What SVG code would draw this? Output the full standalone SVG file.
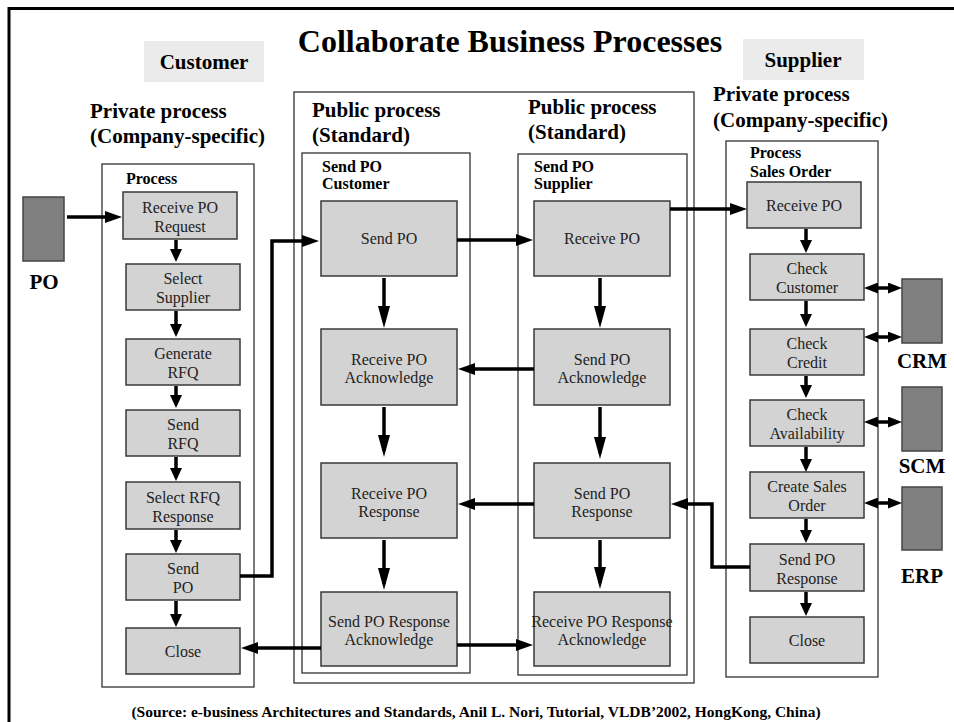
<svg xmlns="http://www.w3.org/2000/svg" width="954" height="722" viewBox="0 0 954 722">
  <style>
    text { font-family: "Liberation Serif", "Times New Roman", serif; fill: #000; }
    .title { font-size: 32px; font-weight: bold; }
    .head { font-size: 21px; font-weight: bold; }
    .lab { font-size: 16px; font-weight: bold; }
    .sys { font-size: 21px; font-weight: bold; }
    .node rect { fill: #d3d3d3; stroke: #3a3a3a; stroke-width: 1.5; }
    .node text { font-size: 16px; fill: #222; text-anchor: middle; }
    .box { fill: none; stroke: #333; stroke-width: 1.3; }
    .doc { fill: #808080; stroke: #444; stroke-width: 1.5; }
    .tag { fill: #ebebeb; }
    .conn path { fill: none; stroke: #000; stroke-width: 3.5; }
    .foot { font-size: 15.5px; font-weight: bold; text-anchor: middle; }
  </style>
  <defs>
    <marker id="arr" markerUnits="userSpaceOnUse" markerWidth="17" markerHeight="12" refX="11" refY="6" orient="auto">
      <path d="M0,0 L17,6 L0,12 z" fill="#000"/>
    </marker>
    <marker id="arrLong" markerUnits="userSpaceOnUse" markerWidth="22" markerHeight="12" refX="16" refY="6" orient="auto">
      <path d="M0,0 L22,6 L0,12 z" fill="#000"/>
    </marker>
    <marker id="arrSmall" markerUnits="userSpaceOnUse" markerWidth="13" markerHeight="12" refX="7" refY="6" orient="auto">
      <path d="M0,0 L13,6 L0,12 z" fill="#000"/>
    </marker>
    <marker id="dbl" markerUnits="userSpaceOnUse" markerWidth="14" markerHeight="11" refX="8" refY="5.5" orient="auto-start-reverse">
      <path d="M0,0 L14,5.5 L0,11 z" fill="#000"/>
    </marker>
  </defs>

  <rect width="954" height="722" fill="#fff"/>

  <!-- frame edges -->
  <path d="M9,722 V8.5 H954" fill="none" stroke="#000" stroke-width="3"/>

  <!-- headings -->
  <text class="title" x="510" y="52" text-anchor="middle">Collaborate Business Processes</text>
  <g id="customer-tag">
    <rect class="tag" x="144" y="41" width="120" height="41"/>
    <text class="head" x="204" y="69" text-anchor="middle">Customer</text>
  </g>
  <g id="supplier-tag">
    <rect class="tag" x="743" y="39" width="121" height="41"/>
    <text class="head" x="803" y="67" text-anchor="middle">Supplier</text>
  </g>
  <text class="head" x="90" y="118">Private process</text>
  <text class="head" x="90" y="143">(Company-specific)</text>
  <text class="head" x="312" y="117">Public process</text>
  <text class="head" x="312" y="142">(Standard)</text>
  <text class="head" x="528" y="114">Public process</text>
  <text class="head" x="528" y="139">(Standard)</text>
  <text class="head" x="713" y="101">Private process</text>
  <text class="head" x="713" y="127">(Company-specific)</text>

  <!-- containers -->
  <g id="public-process">
    <rect class="box" x="294" y="92" width="400" height="591"/>
  </g>
  <g id="customer-process">
    <rect class="box" x="102" y="164" width="152" height="523"/>
    <text class="lab" x="126" y="184">Process</text>
  </g>
  <g id="send-po-customer">
    <rect class="box" x="302" y="153" width="168" height="520"/>
    <text class="lab" x="322" y="172">Send PO</text>
    <text class="lab" x="322" y="189">Customer</text>
  </g>
  <g id="send-po-supplier">
    <rect class="box" x="518" y="154" width="169" height="521"/>
    <text class="lab" x="534" y="172">Send PO</text>
    <text class="lab" x="534" y="189">Supplier</text>
  </g>
  <g id="sales-order-process">
    <rect class="box" x="726" y="141" width="152" height="536"/>
    <text class="lab" x="750" y="158">Process</text>
    <text class="lab" x="750" y="177">Sales Order</text>
  </g>

  <!-- external documents and systems -->
  <g id="po-doc">
    <rect class="doc" x="23" y="197" width="41" height="64"/>
    <text class="sys" x="44" y="289" text-anchor="middle">PO</text>
  </g>
  <g id="crm">
    <rect class="doc" x="902" y="279" width="40" height="64"/>
    <text class="sys" x="922" y="368" text-anchor="middle">CRM</text>
  </g>
  <g id="scm">
    <rect class="doc" x="902" y="387" width="40" height="64"/>
    <text class="sys" x="922" y="473" text-anchor="middle">SCM</text>
  </g>
  <g id="erp">
    <rect class="doc" x="902" y="487" width="40" height="63"/>
    <text class="sys" x="922" y="583" text-anchor="middle">ERP</text>
  </g>

  <!-- customer private process -->
  <g id="c-receive-po-request" class="node">
    <rect x="123" y="192" width="114" height="47"/>
    <text x="180" y="212.5">Receive PO</text><text x="180" y="231.5">Request</text>
  </g>
  <g id="c-select-supplier" class="node">
    <rect x="126" y="264" width="114" height="46"/>
    <text x="183" y="284">Select</text><text x="183" y="303">Supplier</text>
  </g>
  <g id="c-generate-rfq" class="node">
    <rect x="126" y="339" width="114" height="46"/>
    <text x="183" y="359">Generate</text><text x="183" y="378">RFQ</text>
  </g>
  <g id="c-send-rfq" class="node">
    <rect x="126" y="410" width="114" height="46"/>
    <text x="183" y="430">Send</text><text x="183" y="449">RFQ</text>
  </g>
  <g id="c-select-rfq-response" class="node">
    <rect x="126" y="482" width="114" height="47"/>
    <text x="183" y="502.5">Select RFQ</text><text x="183" y="521.5">Response</text>
  </g>
  <g id="c-send-po" class="node">
    <rect x="126" y="554" width="114" height="46"/>
    <text x="183" y="574">Send</text><text x="183" y="593">PO</text>
  </g>
  <g id="c-close" class="node">
    <rect x="126" y="628" width="114" height="46"/>
    <text x="183" y="657">Close</text>
  </g>

  <!-- public process, customer side -->
  <g id="p-send-po" class="node">
    <rect x="321" y="201" width="136" height="75"/>
    <text x="389" y="244">Send PO</text>
  </g>
  <g id="p-receive-po-ack" class="node">
    <rect x="321" y="329" width="136" height="76"/>
    <text x="389" y="365">Receive PO</text><text x="389" y="383">Acknowledge</text>
  </g>
  <g id="p-receive-po-response" class="node">
    <rect x="321" y="463" width="136" height="75"/>
    <text x="389" y="499">Receive PO</text><text x="389" y="517">Response</text>
  </g>
  <g id="p-send-po-response-ack" class="node">
    <rect x="321" y="592" width="136" height="74"/>
    <text x="389" y="627">Send PO Response</text><text x="389" y="645">Acknowledge</text>
  </g>

  <!-- public process, supplier side -->
  <g id="s-receive-po" class="node">
    <rect x="534" y="201" width="136" height="75"/>
    <text x="602" y="244">Receive PO</text>
  </g>
  <g id="s-send-po-ack" class="node">
    <rect x="534" y="329" width="136" height="76"/>
    <text x="602" y="365">Send PO</text><text x="602" y="383">Acknowledge</text>
  </g>
  <g id="s-send-po-response" class="node">
    <rect x="534" y="463" width="136" height="75"/>
    <text x="602" y="499">Send PO</text><text x="602" y="517">Response</text>
  </g>
  <g id="s-receive-po-response-ack" class="node">
    <rect x="534" y="592" width="136" height="74"/>
    <text x="602" y="627">Receive PO Response</text><text x="602" y="645">Acknowledge</text>
  </g>

  <!-- supplier private process -->
  <g id="o-receive-po" class="node">
    <rect x="747" y="182" width="114" height="46"/>
    <text x="804" y="211">Receive PO</text>
  </g>
  <g id="o-check-customer" class="node">
    <rect x="750" y="254" width="114" height="46"/>
    <text x="807" y="274">Check</text><text x="807" y="293">Customer</text>
  </g>
  <g id="o-check-credit" class="node">
    <rect x="750" y="329" width="114" height="46"/>
    <text x="807" y="349">Check</text><text x="807" y="368">Credit</text>
  </g>
  <g id="o-check-availability" class="node">
    <rect x="750" y="400" width="114" height="46"/>
    <text x="807" y="420">Check</text><text x="807" y="439">Availability</text>
  </g>
  <g id="o-create-sales-order" class="node">
    <rect x="750" y="472" width="114" height="46"/>
    <text x="807" y="492">Create Sales</text><text x="807" y="511">Order</text>
  </g>
  <g id="o-send-po-response" class="node">
    <rect x="750" y="544" width="114" height="47"/>
    <text x="807" y="564.5">Send PO</text><text x="807" y="583.5">Response</text>
  </g>
  <g id="o-close" class="node">
    <rect x="750" y="617" width="114" height="46"/>
    <text x="807" y="646">Close</text>
  </g>

  <!-- connectors -->
  <g id="connectors" class="conn">
    <!-- into the customer process -->
    <path d="M67,217 H116" marker-end="url(#arr)"/>
    <!-- customer private flow -->
    <path d="M176,240 V256" marker-end="url(#arrSmall)"/>
    <path d="M176,311 V331" marker-end="url(#arrSmall)"/>
    <path d="M176,386 V402" marker-end="url(#arrSmall)"/>
    <path d="M176,457 V475" marker-end="url(#arrSmall)"/>
    <path d="M176,530 V547" marker-end="url(#arrSmall)"/>
    <path d="M176,601 V621" marker-end="url(#arrSmall)"/>
    <!-- customer to public -->
    <path d="M240,576 H272 V241 H313" marker-end="url(#arr)"/>
    <!-- public vertical flows -->
    <path d="M384,278 V322" marker-end="url(#arrLong)"/>
    <path d="M384,407 V451" marker-end="url(#arrLong)"/>
    <path d="M384,540 V584" marker-end="url(#arrLong)"/>
    <path d="M600,278 V322" marker-end="url(#arrLong)"/>
    <path d="M600,407 V453" marker-end="url(#arrLong)"/>
    <path d="M600,540 V583" marker-end="url(#arrLong)"/>
    <!-- public exchanges -->
    <path d="M457,240 H527" marker-end="url(#arr)"/>
    <path d="M534,369 H464" marker-end="url(#arr)"/>
    <path d="M534,504 H464" marker-end="url(#arr)"/>
    <path d="M457,645 H527" marker-end="url(#arr)"/>
    <path d="M321,648 H247" marker-end="url(#arr)"/>
    <!-- public to supplier and back -->
    <path d="M670,209 H741" marker-end="url(#arr)"/>
    <path d="M750,567 H712 V504 H677" marker-end="url(#arr)"/>
    <!-- supplier private flow -->
    <path d="M806,229 V247" marker-end="url(#arrSmall)"/>
    <path d="M806,301 V321" marker-end="url(#arrSmall)"/>
    <path d="M806,376 V392" marker-end="url(#arrSmall)"/>
    <path d="M806,447 V466" marker-end="url(#arrSmall)"/>
    <path d="M806,519 V537" marker-end="url(#arrSmall)"/>
    <path d="M806,592 V610" marker-end="url(#arrSmall)"/>
    <!-- supplier systems -->
    <path d="M870,288 H896" marker-start="url(#dbl)" marker-end="url(#dbl)"/>
    <path d="M870,337 H896" marker-start="url(#dbl)" marker-end="url(#dbl)"/>
    <path d="M870,422 H896" marker-start="url(#dbl)" marker-end="url(#dbl)"/>
    <path d="M870,503 H896" marker-start="url(#dbl)" marker-end="url(#dbl)"/>
  </g>

  <text class="foot" x="476" y="717">(Source: e-business Architectures and Standards, Anil L. Nori, Tutorial, VLDB’2002, HongKong, China)</text>
</svg>
